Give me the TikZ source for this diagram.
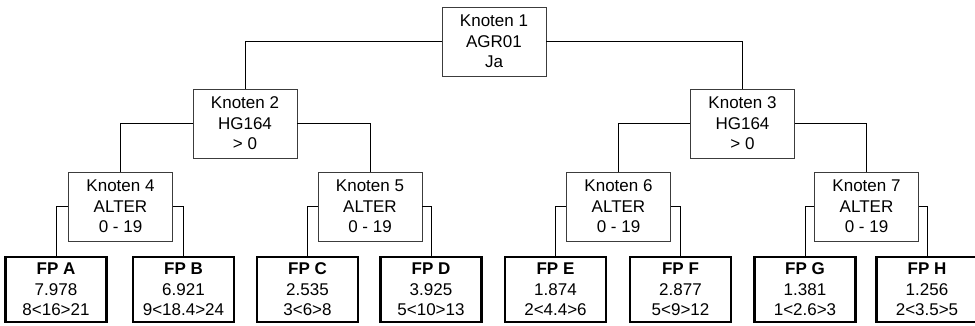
\documentclass[tikz,border=0pt]{standalone}
\usepackage{fontspec}
\setmainfont{Liberation Sans}
\definecolor{frame}{HTML}{3C3C3C}
\tikzset{
  box/.style={rectangle, align=center, inner sep=0pt, font=\fontsize{17}{20.5}\selectfont},
  knoten/.style={box, draw=frame, line width=0.9pt, minimum width=104pt, minimum height=69pt},
  leaf/.style={box, draw=black, line width=2.2pt, minimum width=101pt, minimum height=65pt},
  link/.style={draw=black, line width=0.9pt},
}
\begin{document}
\begin{tikzpicture}[x=1pt, y=1pt]
  \useasboundingbox (0,0) rectangle (975,325);
  % inner nodes
  \node[knoten] (k1) at (494, 283.5) {Knoten 1\\AGR01\\Ja};
  \node[knoten] (k2) at (245, 201.5) {Knoten 2\\HG164\\> 0};
  \node[knoten] (k3) at (742.5, 201.5) {Knoten 3\\HG164\\> 0};
  \foreach \n/\x in {4/120.5, 5/370, 6/618.5, 7/866.5}
    \node[knoten] (k\n) at (\x, 118.5) {Knoten \n\\ALTER\\0 - 19};

  % leaves
  \foreach \n/\x/\v/\r in {a/56/7.978/8<16>21, b/183.5/6.921/9<18.4>24,
      c/307.5/2.535/3<6>8, d/431/3.925/5<10>13, e/555.5/1.874/2<4.4>6,
      f/680.5/2.877/5<9>12, g/805/1.381/1<2.6>3, h/927/1.256/2<3.5>5}
    \node[leaf] (fp\n) at (\x, 35.5) {\textbf{FP \MakeUppercase{\n}}\\\v\\\r};

  % connectors
  \foreach \p/\c in {k1/k2, k2/k4, k3/k6, k4/fpa, k5/fpc, k6/fpe, k7/fpg}
    \draw[link] (\p.west) -| (\c.north);
  \foreach \p/\c in {k1/k3, k2/k5, k3/k7, k4/fpb, k5/fpd, k6/fpf, k7/fph}
    \draw[link] (\p.east) -| (\c.north);
\end{tikzpicture}
\end{document}
